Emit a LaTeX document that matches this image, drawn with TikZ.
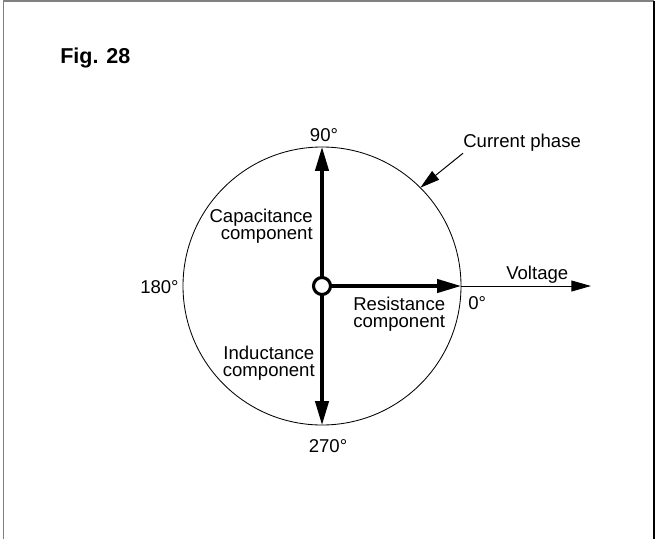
\documentclass[tikz,border=0pt]{standalone}
\usepackage{fontspec}
\setmainfont{Liberation Sans}
\usetikzlibrary{arrows.meta}
\begin{document}
\begin{tikzpicture}[x=0.025cm, y=-0.025cm, line join=round,
	lbl/.style={font=\fontsize{13.2}{12.3}\selectfont, inner sep=0pt, align=center},
	vec/.style={line width=2.2pt, -{Triangle[length=17pt,width=9.5pt]}},
	pointer/.style={line width=0.7pt, -{Triangle[length=14pt,width=7.8pt]}}]
	\useasboundingbox (0,0) rectangle (655,539);
	% frame
	\draw [gray, line width=1.1pt] (3.5,539)--(3.5,1)--(654,1);
	\draw [line width=1.1pt] (654,1)--(654,539);
	% phase circle
	\coordinate (O) at (322,286);
	\coordinate (top) at (322,147);
	\coordinate (bot) at (322,425);
	\coordinate (rgt) at (461,286);
	\coordinate (cph) at ([shift={(-45:139)}]O);
	\coordinate (volt) at (591,286);
	\draw [line width=0.6pt] (O) circle (139);
	\draw [vec] (O)--(top);
	\draw [vec] (O)--(bot);
	\draw [vec] (O)--(rgt);
	\draw [pointer] (rgt)--(volt);
	\draw [line width=2.2pt, fill=white] (O) circle (8.5);
	% labels
	\node [anchor=base west, inner sep=0pt, font=\fontsize{15.3}{18}\selectfont\bfseries] (fig) at (60,63) {Fig. 28};
	\node [lbl, anchor=base] (deg90) at (324,141.5) {90°};
	\node [lbl, anchor=base] (deg270) at (328,452) {270°};
	\node [lbl, anchor=base west] (deg180) at (140,293) {180°};
	\node [lbl, anchor=base west] (deg0) at (468,309) {0°};
	\node [lbl, anchor=base west] (vlt) at (506,279) {Voltage};
	\node [lbl, anchor=base west] (cur) at (463,147) {Current phase};
	\node [lbl, align=right, anchor=east] (cap) at (313,226) {Capacitance\\component};
	\node [lbl, anchor=west] (res) at (353,314) {Resistance\\component};
	\node [lbl, anchor=east] (ind) at (315,363) {Inductance\\component};
	\draw [pointer] ([yshift=-1.5pt]cur.south west)--(cph);
\end{tikzpicture}
\end{document}
